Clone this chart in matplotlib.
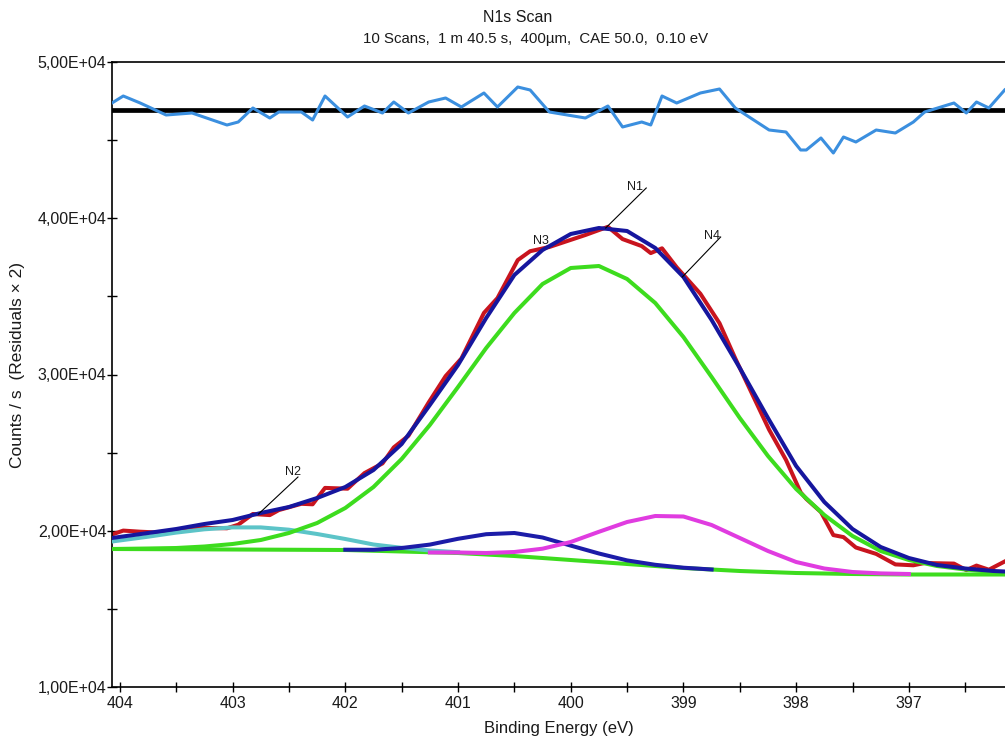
import matplotlib
matplotlib.use("Agg")
import matplotlib.pyplot as plt
from matplotlib.ticker import FuncFormatter, MultipleLocator

plt.rcParams['font.family'] = ['Liberation Sans', 'DejaVu Sans']

# measured data (red)
data_be = [404.07, 403.97, 403.82, 403.59, 403.36, 403.05, 402.95, 402.82, 402.67, 402.59,
           402.39, 402.29, 402.18, 401.98, 401.83, 401.67, 401.57, 401.44, 401.26, 401.11,
           400.97, 400.77, 400.65, 400.47, 400.36, 400.19, 399.87, 399.67, 399.54, 399.37,
           399.29, 399.19, 399.06, 398.85, 398.68, 398.54, 398.24, 398.09, 397.96, 397.91,
           397.78, 397.67, 397.58, 397.47, 397.29, 397.12, 396.96, 396.86, 396.60, 396.49,
           396.40, 396.29, 396.15]
data_cps = [19760, 20010, 19939, 19862, 20195, 20157, 20387, 21072, 21002, 21322,
            21725, 21693, 22742, 22691, 23690, 24310, 25334, 26077, 28214, 29898,
            31024, 33942, 34890, 37322, 37891, 38160, 38928, 39453, 38666, 38218,
            37770, 38077, 36861, 35171, 33283, 31030, 26467, 24534, 22454, 22038,
            21194, 19722, 19594, 18928, 18518, 17846, 17789, 17936, 17898, 17482,
            17770, 17507, 18032]
# residuals x 2, drawn around the offset line
resid_cps = [47376, 47824, 47376, 46608, 46736, 45968, 46160, 47056, 46416, 46800,
             46800, 46288, 47824, 46480, 47184, 46736, 47440, 46736, 47440, 47696,
             47120, 48016, 47120, 48400, 48208, 46800, 46416, 47184, 45840, 46160,
             45968, 47824, 47376, 48016, 48272, 47056, 45648, 45520, 44368, 44368,
             45136, 44176, 45200, 44880, 45648, 45456, 46160, 46800, 47376, 46736,
             47440, 47056, 48208]
resid_zero = 46930

# fit curves
fit_be = [404.07, 403.75, 403.5, 403.25, 403.0, 402.75, 402.5, 402.25, 402.0, 401.75,
          401.5, 401.25, 401.0, 400.75, 400.5, 400.25, 400.0, 399.75, 399.5, 399.25,
          399.0, 398.75, 398.5, 398.25, 398.0, 397.75, 397.5, 397.25, 397.0, 396.75,
          396.5, 396.25, 396.15]
envelope = [19536, 19856, 20112, 20432, 20688, 21136, 21520, 22096, 22800, 23888,
            25552, 28048, 30608, 33616, 36368, 37968, 38992, 39376, 39184, 38096,
            36240, 33488, 30416, 27216, 24144, 21840, 20112, 18960, 18256, 17808,
            17584, 17424, 17392]
n1 = [18832, 18864, 18896, 18992, 19152, 19408, 19856, 20496, 21456, 22800,
      24592, 26768, 29200, 31696, 33936, 35792, 36816, 36944, 36112, 34576,
      32400, 29840, 27216, 24784, 22672, 21008, 19664, 18704, 18128, 17744,
      17520, 17360, 17296]

n2_be = [404.07, 403.75, 403.5, 403.25, 403.0, 402.75, 402.5, 402.25, 402.0, 401.75,
         401.5, 401.25, 401.0]
n2 = [19312, 19619, 19882, 20093, 20214, 20214, 20067, 19792, 19472, 19120,
      18909, 18736, 18627]

n3_be = [402.0, 401.75, 401.5, 401.25, 401.0, 400.75, 400.5, 400.25, 400.0, 399.75,
         399.5, 399.25, 399.0, 398.75]
n3 = [18787, 18781, 18896, 19114, 19485, 19779, 19856, 19568, 19050, 18544,
      18102, 17821, 17635, 17520]

n4_be = [401.25, 401.0, 400.75, 400.5, 400.25, 400.0, 399.75, 399.5, 399.25, 399.0,
         398.75, 398.5, 398.25, 398.0, 397.75, 397.5, 397.25, 397.0]
n4 = [18608, 18608, 18576, 18640, 18851, 19280, 19933, 20560, 20944, 20912,
      20368, 19536, 18704, 18000, 17584, 17360, 17270, 17232]

bg_be = [404.07, 403.0, 402.0, 401.5, 401.0, 400.5, 400.0, 399.5, 399.0, 398.5,
         398.0, 397.5, 397.0, 396.15]
bg = [18832, 18800, 18768, 18672, 18576, 18384, 18128, 17872, 17616, 17424,
      17296, 17232, 17200, 17200]

# peak labels: name, text position, leader end
labels = [
    ("N1", (399.43, 42000), (399.33, 41936), (399.69, 39376)),
    ("N4", (398.75, 38864), (398.67, 38800), (399.01, 36240)),
    ("N3", (400.26, 38544), None, None),
    ("N2", (402.46, 23760), (402.42, 23440), (402.77, 21072)),
]

fig = plt.figure(figsize=(10.05, 7.47), dpi=100)
ax = fig.add_axes([112 / 1005, 60 / 747, 893 / 1005, 625 / 747])

green = '#3ddc1e'
navy = '#16169e'
txt_col = '#1a1a1a'

ax.plot(data_be, data_cps, color='#c8141e', lw=2.9, zorder=2)
ax.plot(bg_be, bg, color=green, lw=2.9, zorder=3)
ax.plot(n2_be, n2, color='#5cc4c8', lw=2.9, zorder=3)
ax.plot(n3_be, n3, color='#1c1ca8', lw=2.9, zorder=4)
ax.plot(n4_be, n4, color='#e03ce0', lw=2.9, zorder=4)
ax.plot(fit_be, n1, color=green, lw=2.9, zorder=5)
ax.plot(fit_be, envelope, color=navy, lw=2.9, zorder=6)

ax.axhline(resid_zero, color='black', lw=3.4, zorder=3)
ax.plot(data_be, resid_cps, color='#3b8fdf', lw=2.2, zorder=4)

for name, txt, p0, p1 in labels:
    ax.text(txt[0], txt[1], name, fontsize=9, ha='center', va='center', color=txt_col, zorder=7)
    if p0 is not None:
        ax.plot([p0[0], p1[0]], [p0[1], p1[1]], color='black', lw=0.8, zorder=7)

ax.set_xlim(404.07, 396.147)
ax.set_ylim(1e4, 5e4)
ax.xaxis.set_major_locator(MultipleLocator(1))
ax.xaxis.set_minor_locator(MultipleLocator(0.5))
ax.yaxis.set_major_locator(MultipleLocator(1e4))
ax.yaxis.set_minor_locator(MultipleLocator(5e3))
ax.yaxis.set_major_formatter(FuncFormatter(lambda v, p: f"{v:.2E}".replace('.', ',')))
ax.xaxis.set_major_formatter(FuncFormatter(lambda v, p: f"{v:.0f}"))

ax.tick_params(which='both', direction='inout', color='black', width=1)
ax.tick_params(which='major', length=7, labelsize=11.5, labelcolor=txt_col)
ax.tick_params(which='minor', length=7)
ax.tick_params(axis='y', pad=0.5)
ax.tick_params(axis='x', pad=3)
ax.spines['right'].set_visible(False)
for s in ['left', 'bottom', 'top']:
    ax.spines[s].set_linewidth(1.2)

ax.set_xlabel('Binding Energy (eV)', fontsize=12, color=txt_col, labelpad=7)
fig.text(18 / 1005, 1 - 365 / 747, 'Counts / s  (Residuals × 2)', rotation=90,
         ha='center', va='center', fontsize=12.5, color=txt_col)

fig.text(518 / 1005, 1 - 18 / 747, 'N1s Scan', ha='center', va='center', fontsize=11.5, color=txt_col)
fig.text(536 / 1005, 1 - 39 / 747, '10 Scans,  1 m 40.5 s,  400µm,  CAE 50.0,  0.10 eV',
         ha='center', va='center', fontsize=10.8, color=txt_col)

fig.savefig('out.png', dpi=100)
